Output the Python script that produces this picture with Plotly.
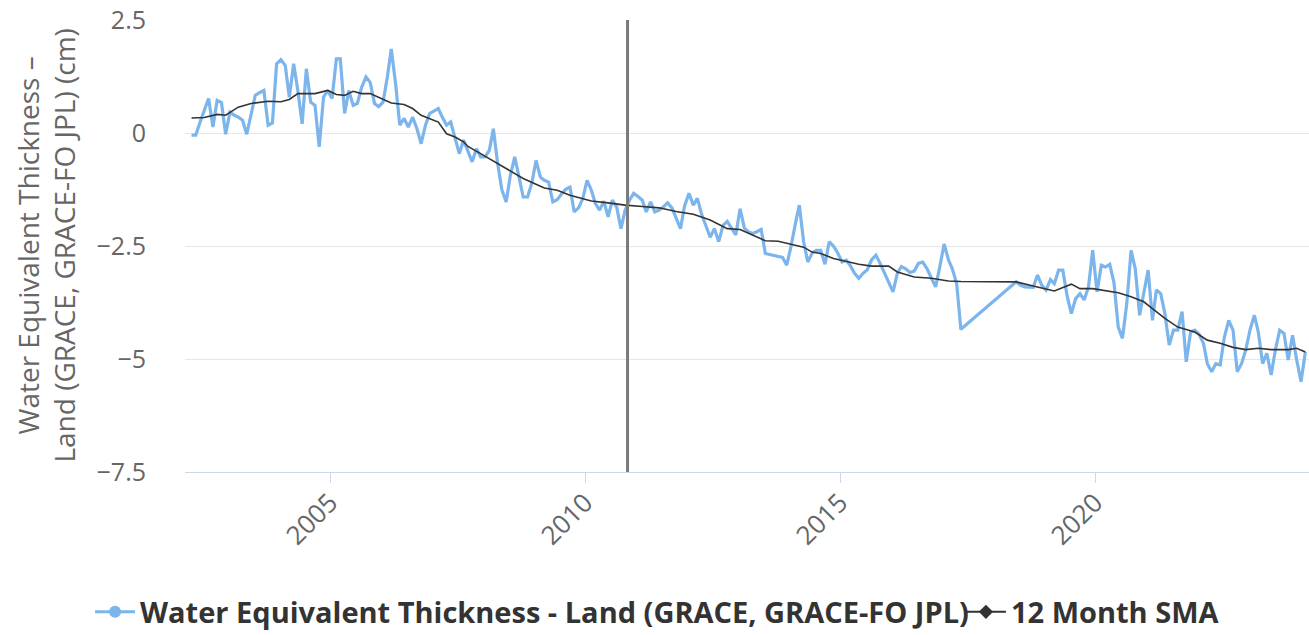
import pandas as pd
import plotly.graph_objects as go

# GRACE monthly values (cm), starting April 2002, through May 2017
grace_start = "2002-04-01"
grace_values = [
    -0.04, -0.04, 0.25, 0.50, 0.77, 0.14, 0.73, 0.68, -0.02, 0.47,
    0.40, 0.36, 0.29, -0.02, 0.45, 0.84, 0.90, 0.95, 0.18, 0.23,
    1.54, 1.63, 1.50, 0.80, 1.54, 0.95, 0.21, 1.43, 0.69, 0.62,
    -0.30, 0.80, 0.95, 0.77, 1.65, 1.65, 0.44, 0.95, 0.62, 0.66,
    1.02, 1.25, 1.13, 0.66, 0.59, 0.69, 1.25, 1.87, 1.10, 0.18,
    0.33, 0.14, 0.36, 0.10, -0.23, 0.18, 0.44, 0.50, 0.55, 0.36,
    0.18, 0.25, -0.12, -0.45, -0.15, -0.38, -0.63, -0.34, -0.52, -0.52,
    -0.38, 0.10, -0.67, -1.25, -1.52, -0.93, -0.52, -0.97, -1.41, -1.41,
    -1.11, -0.60, -0.97, -1.04, -1.08, -1.52, -1.47, -1.35, -1.24, -1.19,
    -1.74, -1.65, -1.45, -1.04, -1.26, -1.55, -1.70, -1.50, -1.85, -1.48,
    -1.63, -2.11, -1.70, -1.48, -1.33, -1.40, -1.48, -1.74, -1.52, -1.74,
    -1.70, -1.63, -1.54, -1.65, -1.90, -2.11, -1.60, -1.33, -1.59, -1.44,
    -1.80, -2.05, -2.30, -2.11, -2.40, -2.04, -1.95, -2.10, -2.25, -1.67,
    -2.10, -2.18, -2.22, -2.18, -2.13, -2.66, -2.68, -2.70, -2.73, -2.75,
    -2.92, -2.50, -2.00, -1.59, -2.40, -2.85, -2.65, -2.59, -2.59, -2.90,
    -2.40, -2.50, -2.65, -2.85, -2.81, -2.93, -3.10, -3.21, -3.10, -3.02,
    -2.80, -2.70, -2.88, -3.10, -3.30, -3.51, -3.10, -2.95, -3.00, -3.08,
    -3.05, -2.88, -2.85, -3.00, -3.20, -3.40, -2.96, -2.45, -2.80, -3.00,
    -3.33, -4.34,
]

# GRACE-FO monthly values (cm), starting June 2018, through Feb 2024
gracefo_start = "2018-06-01"
gracefo_values = [
    -3.29, -3.36, -3.40, -3.41, -3.41, -3.14, -3.36, -3.47, -3.24, -3.33,
    -3.03, -3.03, -3.60, -3.99, -3.66, -3.55, -3.69, -3.40, -2.59, -3.51,
    -2.92, -2.96, -2.90, -3.30, -4.29, -4.54, -3.77, -2.59, -3.00, -4.03,
    -3.58, -3.03, -4.14, -3.47, -3.55, -3.99, -4.69, -4.36, -4.36, -3.95,
    -5.06, -4.40, -4.36, -4.45, -4.65, -5.10, -5.28, -5.10, -5.13, -4.51,
    -4.14, -4.36, -5.28, -5.10, -4.80, -4.35, -4.03, -4.40, -5.10, -4.87,
    -5.35, -4.80, -4.36, -4.43, -5.02, -4.47, -5.02, -5.50, -4.84,
]

# 12 month simple moving average
sma_dates = [
    "2002-04", "2002-07", "2002-10", "2002-12", "2003-03", "2003-06", "2003-10",
    "2004-01", "2004-03", "2004-05", "2004-09", "2004-12", "2005-02", "2005-04",
    "2005-06", "2005-08", "2005-10", "2006-01", "2006-03", "2006-06", "2006-08",
    "2006-10", "2007-02", "2007-04", "2007-06", "2007-08", "2007-09", "2007-12",
    "2008-03", "2008-07", "2008-10", "2009-03", "2009-06", "2009-09", "2010-02",
    "2010-06", "2010-10", "2011-02", "2011-06", "2011-10", "2012-02", "2012-06",
    "2012-10", "2013-01", "2013-04", "2013-07", "2013-10", "2014-01", "2014-04",
    "2014-06", "2014-08", "2014-11", "2015-03", "2015-05", "2015-08", "2015-12",
    "2016-02", "2016-06", "2016-10", "2017-02", "2017-05", "2018-06", "2018-10",
    "2019-01", "2019-03", "2019-07", "2019-09", "2019-12", "2020-02", "2020-05",
    "2020-06", "2020-09", "2020-12", "2021-02", "2021-05", "2021-08", "2021-12",
    "2022-03", "2022-06", "2022-09", "2022-12", "2023-03", "2023-06", "2023-10",
    "2023-12", "2024-02",
]
sma_values = [
    0.34, 0.35, 0.42, 0.40, 0.58, 0.66, 0.71,
    0.70, 0.75, 0.88, 0.88, 0.95, 0.86, 0.84,
    0.93, 0.88, 0.88, 0.75, 0.67, 0.64, 0.55,
    0.40, 0.25, -0.01, -0.08, -0.19, -0.29, -0.45,
    -0.61, -0.82, -1.00, -1.21, -1.26, -1.37, -1.50,
    -1.54, -1.59, -1.62, -1.65, -1.73, -1.79, -1.92,
    -2.11, -2.13, -2.26, -2.38, -2.39, -2.46, -2.52,
    -2.63, -2.66, -2.77, -2.85, -2.90, -2.94, -2.94,
    -3.07, -3.18, -3.21, -3.27, -3.28, -3.29, -3.38,
    -3.44, -3.49, -3.34, -3.44, -3.44, -3.47, -3.51,
    -3.53, -3.62, -3.73, -3.88, -4.10, -4.29, -4.40,
    -4.58, -4.65, -4.74, -4.79, -4.76, -4.79, -4.79,
    -4.76, -4.84,
]

marker_date = "2010-11-01"
y_tick_vals = [2.5, 0, -2.5, -5, -7.5]
y_tick_text = ["2.5", "0", "\u22122.5", "\u22125", "\u22127.5"]

series_name = "Water Equivalent Thickness - Land (GRACE, GRACE-FO JPL)"
sma_name = "12 Month SMA"
y_title = "Water Equivalent Thickness \u2013<br>Land (GRACE, GRACE-FO JPL) (cm)"

mid = pd.Timedelta(days=14)
grace_dates = pd.date_range(grace_start, periods=len(grace_values), freq="MS") + mid
gracefo_dates = pd.date_range(gracefo_start, periods=len(gracefo_values), freq="MS") + mid
x_all = list(grace_dates) + list(gracefo_dates)
y_all = grace_values + gracefo_values
sma_x = [pd.Timestamp(d + "-15") for d in sma_dates]

BLUE = "#7cb5ec"
DARK = "#333333"
FONT = "Open Sans"
GREY = "#666666"

fig = go.Figure()
fig.add_trace(go.Scatter(x=x_all, y=y_all, mode="lines", name=series_name,
                         line=dict(color=BLUE, width=3.2), showlegend=False))
fig.add_trace(go.Scatter(x=sma_x, y=sma_values, mode="lines", name=sma_name,
                         line=dict(color=DARK, width=1.6), showlegend=False))
# legend entries (one per legend so the row never wraps)
fig.add_trace(go.Scatter(x=[None], y=[None], mode="lines+markers", name=series_name,
                         line=dict(color=BLUE, width=3), legend="legend",
                         marker=dict(symbol="circle", size=12, color=BLUE)))
fig.add_trace(go.Scatter(x=[None], y=[None], mode="lines+markers", name=sma_name,
                         line=dict(color=DARK, width=2), legend="legend2",
                         marker=dict(symbol="diamond", size=11, color=DARK)))

fig.add_shape(type="line", xref="x", yref="paper", x0=marker_date, x1=marker_date,
              y0=0, y1=1, line=dict(color="#7a7a7a", width=3))

legend_font = dict(family=FONT, size=29, color=DARK, weight="bold")

fig.update_layout(
    width=1309, height=635,
    margin=dict(l=185, r=0, t=20, b=163, autoexpand=False),
    paper_bgcolor="white", plot_bgcolor="white",
    font=dict(family=FONT, color=GREY, size=25),
    showlegend=True,
    legend=dict(orientation="h", xref="container", yref="container",
                x=0.0688, xanchor="left", y=0.0362, yanchor="middle",
                font=legend_font, itemwidth=40, bgcolor="rgba(0,0,0,0)"),
    legend2=dict(orientation="h", xref="container", yref="container",
                 x=0.7341, xanchor="left", y=0.0362, yanchor="middle",
                 font=legend_font, itemwidth=40, bgcolor="rgba(0,0,0,0)"),
    xaxis=dict(
        type="date", range=["2002-02-27", "2024-03-12"], automargin=False,
        tick0="2000-01-01", dtick="M60", tickformat="%Y", tickangle=-45,
        showgrid=False, showline=True, linecolor="#ccd6eb", linewidth=1,
        ticks="outside", ticklen=10, tickcolor="#ccd6eb",
        tickfont=dict(family=FONT, size=26, color=GREY),
        ticklabelstandoff=-6, zeroline=False,
    ),
    yaxis=dict(
        range=[-7.5, 2.51], tickvals=y_tick_vals, ticktext=y_tick_text,
        automargin=False,
        showgrid=True, gridcolor="#e6e6e6", gridwidth=1, zeroline=False,
        showline=False, ticks="", ticklabelstandoff=38,
        ticklabeloverflow="allow",
        tickfont=dict(family=FONT, size=25, color=GREY),
    ),
    annotations=[dict(text=y_title, xref="paper", yref="paper", x=-0.124, y=0.5,
                      xanchor="center", yanchor="middle", textangle=-90,
                      showarrow=False, font=dict(family=FONT, size=28, color=GREY))],
)

fig.write_html("out.html", config={"displayModeBar": False},
               post_script="document.body.style.margin='0px';"
                           "document.body.style.overflow='hidden';")
